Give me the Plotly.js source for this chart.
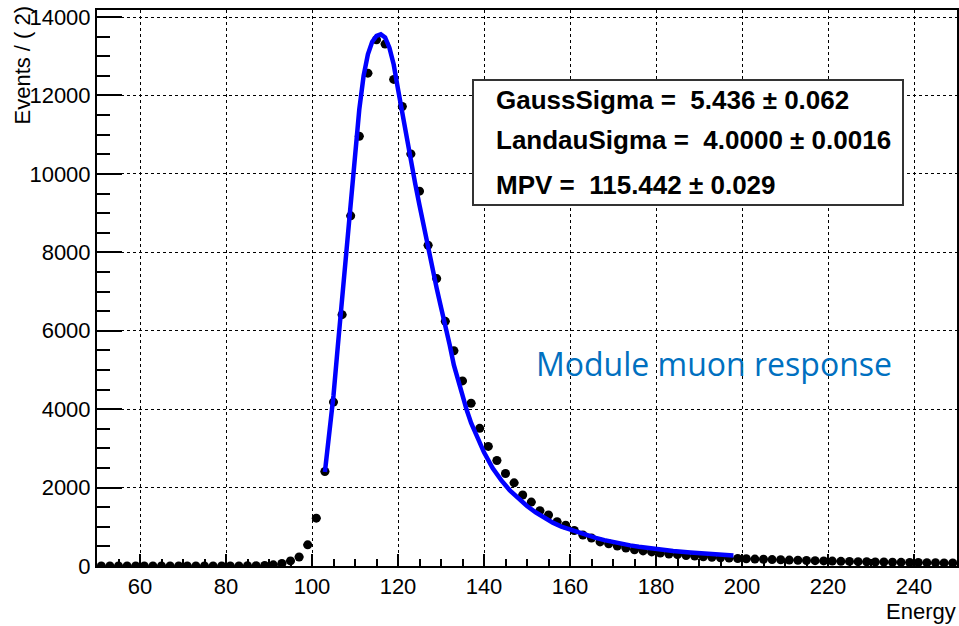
<!DOCTYPE html>
<html>
<head>
<meta charset="utf-8">
<script src="https://cdn.plot.ly/plotly-3.0.1.min.js"></script>
<style>
html,body{margin:0;padding:0;background:#fff;}
#plot{width:959px;height:626px;}
</style>
</head>
<body>
<div id="plot"></div>
<script>
// Bin centres (bin width 2)
const energy = [51,53,55,57,59,61,63,65,67,69,71,73,75,77,79,81,83,85,87,89,
  91,93,95,97,99,101,103,105,107,109,111,113,115,117,119,121,123,125,127,129,
  131,133,135,137,139,141,143,145,147,149,151,153,155,157,159,161,163,165,167,169,
  171,173,175,177,179,181,183,185,187,189,191,193,195,197,199,201,203,205,207,209,
  211,213,215,217,219,221,223,225,227,229,231,233,235,237,239,241,243,245,247,249];
// Events per bin
const events = [0,0,0,0,0,0,0,0,0,0,0,0,0,0,1,2,3,5,8,15,
  30,65,130,230,540,1220,2410,4180,6410,8930,10960,12570,13420,13310,12410,11720,10510,9560,8180,7330,
  6240,5490,4720,4150,3510,3050,2690,2360,2120,1810,1630,1410,1300,1130,1040,905,790,715,615,565,
  510,460,415,385,360,330,305,290,268,252,236,224,210,201,192,186,176,171,163,158,
  150,146,139,136,129,126,119,117,111,109,103,101,95,94,89,88,83,82,77,76];
// Fit curve (Landau (x) Gauss)
const fitEnergy = [103,104,105,106,107,108,109,110,111,112,113,114,115,116,117,118,119,120,121,122,
  123,124,125,126,127,128,129,130,131,132,133,134,135,136,137,138,139,140,142,144,
  146,148,150,152,154,156,158,160,162,164,166,168,170,172,174,176,178,180,184,188,192,196,198];
const fitValues = [2400,3300,4350,5600,6800,7950,9000,10500,11650,12500,13050,13370,13520,13560,13480,13220,12790,12160,11530,10890,
  10300,9750,9200,8650,8120,7580,7080,6600,6150,5650,5120,4710,4330,3970,3650,3390,3130,2900,2500,2190,
  1930,1720,1530,1370,1225,1105,1005,925,845,775,715,660,610,565,525,490,460,435,385,345,310,282,268];

const statsLines = [
  "GaussSigma =  5.436 ± 0.062",
  "LandauSigma =  4.0000 ± 0.0016",
  "MPV =  115.442 ± 0.029"
];
const yTitle = "Events / ( 2)";
const xTitle = "Energy";
const note = "Module muon response";

const F = '"Liberation Sans", Arial, Helvetica, sans-serif';

const traces = [
  {
    type: 'scatter', mode: 'markers', x: energy, y: events,
    marker: {color: '#000', size: 9, symbol: 'circle'},
    error_x: {type: 'constant', value: 1, color: '#000', thickness: 1.5, width: 0},
    hoverinfo: 'skip', showlegend: false
  },
  {
    type: 'scatter', mode: 'lines', x: fitEnergy, y: fitValues,
    line: {color: '#0000ff', width: 4.5},
    hoverinfo: 'skip', showlegend: false
  }
];

const L = 97, R = 957, T = 10, B = 566;
const px = v => (v - L) / (R - L);
const py = v => (B - v) / (B - T);

const statsY = [100, 140, 185];
const annotations = statsLines.map((t, i) => ({
  xref: 'paper', yref: 'paper', x: px(494), y: py(statsY[i]),
  xanchor: 'left', yanchor: 'middle', showarrow: false,
  text: '<b>' + t + '</b>', font: {family: F, size: 26, color: '#000'}
}));
annotations.push({
  xref: 'paper', yref: 'paper', x: px(714), y: py(363),
  xanchor: 'center', yanchor: 'middle', showarrow: false,
  text: note, font: {family: '"Open Sans", sans-serif', size: 32, color: '#0070c0'}
});
annotations.push({
  xref: 'paper', yref: 'paper', x: px(22), y: py(4),
  xanchor: 'center', yanchor: 'top', showarrow: false, textangle: -90,
  text: yTitle, font: {family: F, size: 22, color: '#000'}
});
annotations.push({
  xref: 'paper', yref: 'paper', x: px(958), y: py(611),
  xanchor: 'right', yanchor: 'middle', showarrow: false,
  text: xTitle, font: {family: F, size: 22, color: '#000'}
});

const layout = {
  width: 959, height: 626,
  margin: {l: L, r: 959 - R, t: T, b: 626 - B, pad: 0},
  paper_bgcolor: '#fff', plot_bgcolor: '#fff',
  showlegend: false,
  xaxis: {
    range: [50, 250], tick0: 0, dtick: 20,
    ticks: 'inside', ticklen: 12, tickwidth: 2, tickcolor: '#000',
    showline: true, linecolor: '#000', linewidth: 2, mirror: true,
    showgrid: true, gridcolor: '#000', gridwidth: 1, griddash: 'dot',
    zeroline: false,
    tickfont: {family: F, size: 22, color: '#000'},
    minor: {dtick: 5, ticks: 'inside', ticklen: 7, tickwidth: 2, tickcolor: '#000', showgrid: false}
  },
  yaxis: {
    range: [0, 14180], tick0: 0, dtick: 2000, tickformat: 'd',
    ticks: 'inside', ticklen: 25, tickwidth: 2, tickcolor: '#000',
    showline: true, linecolor: '#000', linewidth: 2, mirror: true,
    showgrid: true, gridcolor: '#000', gridwidth: 1, griddash: 'dot',
    zeroline: false,
    tickfont: {family: F, size: 22, color: '#000'},
    minor: {dtick: 500, ticks: 'inside', ticklen: 13, tickwidth: 2, tickcolor: '#000', showgrid: false}
  },
  shapes: [{
    type: 'rect', xref: 'paper', yref: 'paper',
    x0: px(473), x1: px(903), y0: py(205), y1: py(80),
    line: {color: '#333', width: 2}, fillcolor: '#fff', layer: 'above'
  }],
  annotations: annotations
};

Plotly.newPlot('plot', traces, layout, {staticPlot: true, displayModeBar: false});
</script>
</body>
</html>
